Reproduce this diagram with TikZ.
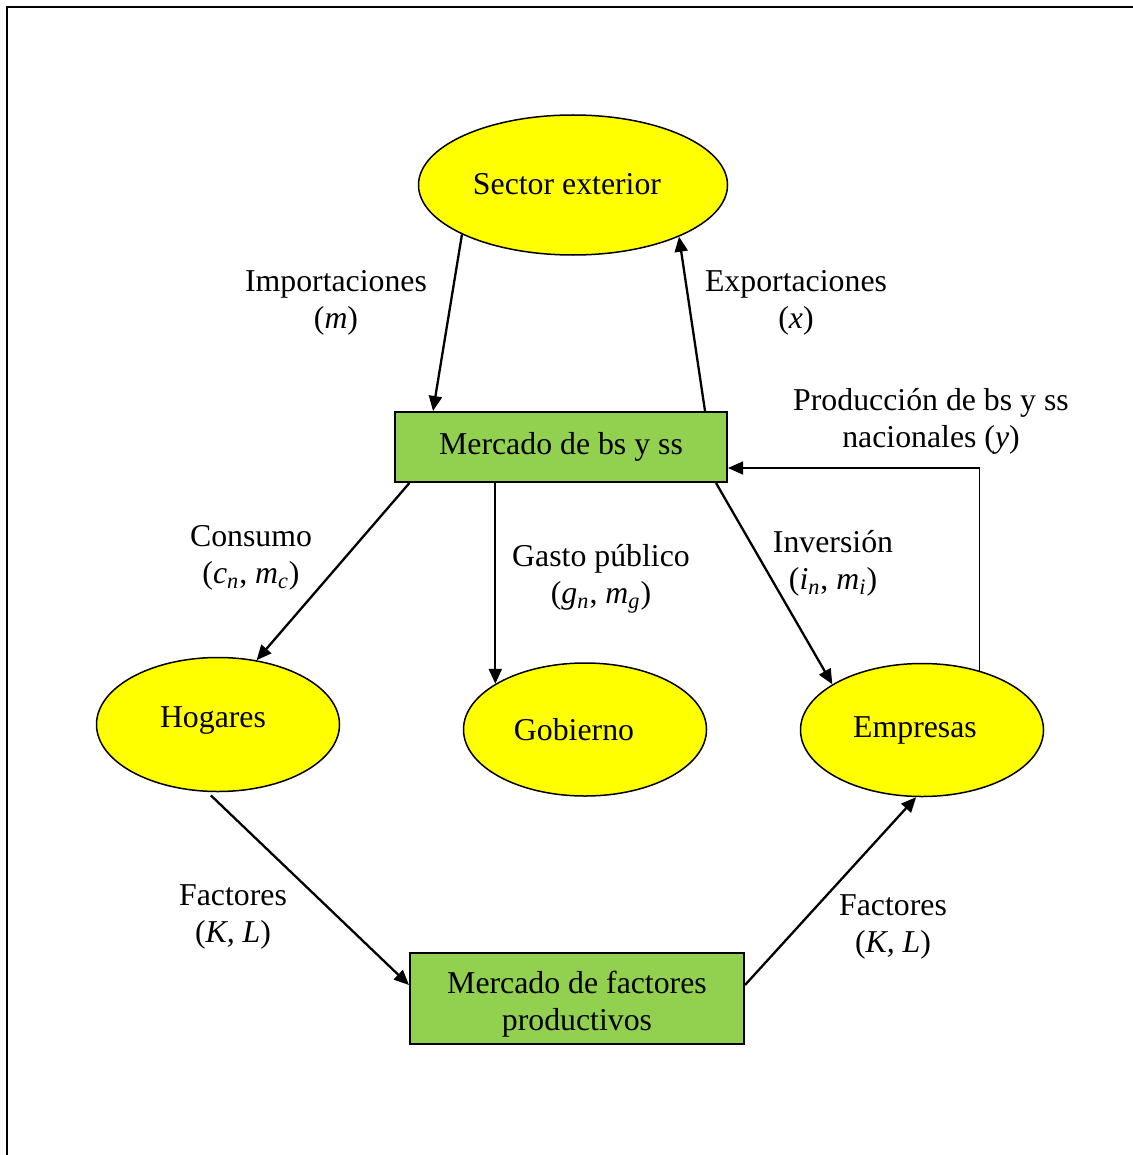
\documentclass[tikz,border=0pt]{standalone}
\usepackage{fontspec}
\setmainfont{Liberation Serif}
\usetikzlibrary{arrows.meta,shapes.geometric}
\definecolor{yel}{HTML}{FFFF00}
\definecolor{grn}{HTML}{92D050}
\begin{document}
\begin{tikzpicture}[x=0.5pt,y=-0.5pt,
  every node/.style={font=\fontsize{15.9}{18.5}\selectfont},
  every label/.style={align=center, inner sep=0pt},
  oval/.style={draw, line width=0.75pt, fill=yel, ellipse, inner sep=0pt},
  mkt/.style={draw, line width=1pt, fill=grn, rectangle, inner sep=0pt, align=center},
  flow/.style={line width=1.15pt, -{Triangle[length=7.5pt,width=6.5pt]}},
  lbl/.style={align=center, inner sep=0pt}]
\useasboundingbox (0,0) rectangle (1133,1155);
\draw[line width=1.1pt] (7,1160) -- (7,7) -- (1140,7);

\node[oval, minimum width=154.5pt, minimum height=70pt,
  label={[xshift=-3pt, yshift=0.5pt]center:Sector exterior}] (se) at (573,185) {};
\node[mkt, minimum width=166pt, minimum height=35pt] (mb) at (561,447) {Mercado de bs y ss};
\node[oval, minimum width=121.5pt, minimum height=67pt,
  label={[xshift=-2.5pt, yshift=2pt]center:Hogares}] (ho) at (218,724.5) {};
\node[oval, minimum width=121.5pt, minimum height=66.5pt,
  label={[xshift=-5.5pt]center:Gobierno}] (go) at (585,729.5) {};
\node[oval, minimum width=121.5pt, minimum height=66.5pt,
  label={[xshift=-3.5pt]center:Empresas}] (em) at (922,730) {};
\node[mkt, minimum width=167pt, minimum height=45.5pt,
  label={[yshift=-3pt]center:Mercado de factores\\productivos}] (mf) at (577,998.5) {};

\draw[flow] (se.204.4) -- ([xshift=19.5pt]mb.north west);
\draw[flow] ([xshift=155.5pt]mb.north west) -- (se.334.9);
\draw[flow, line width=0.8pt] (em.46.5) |- ([yshift=-10.5pt]mb.east);
\draw[flow] ([xshift=7.7pt]mb.south west) -- (ho.59.8);
\draw[flow] (mb.south -| go.153.8) -- (go.153.8);
\draw[flow] ([xshift=161pt]mb.south west) -- (em.153.2);
\draw[flow, shorten <=2.5pt] (ho.261.6) -- ([yshift=6.75pt]mf.west);
\draw[flow] ([yshift=6.75pt]mf.east) -- (em.265.5);

\node[lbl] (limp) at (336,303) {Importaciones\\(\textit{m})};
\node[lbl] (lexp) at (796,303) {Exportaciones\\(\textit{x})};
\node[lbl] (lprod) at (931,421.5) {Producción de bs y ss\\nacionales (\textit{y})};
\node[lbl] (lcon) at (251,558) {Consumo\\(\textit{c}\textsubscript{\textit{n}}, \textit{m}\textsubscript{\textit{c}})};
\node[lbl] (lgas) at (601,579) {Gasto público\\(\textit{g}\textsubscript{\textit{n}}, \textit{m}\textsubscript{\textit{g}})};
\node[lbl] (linv) at (833,563) {Inversión\\(\textit{i}\textsubscript{\textit{n}}, \textit{m}\textsubscript{\textit{i}})};
\node[lbl] (lfh) at (233,917) {Factores\\(\textit{K, L})};
\node[lbl] (lfe) at (893,927) {Factores\\(\textit{K, L})};
\end{tikzpicture}
\end{document}
